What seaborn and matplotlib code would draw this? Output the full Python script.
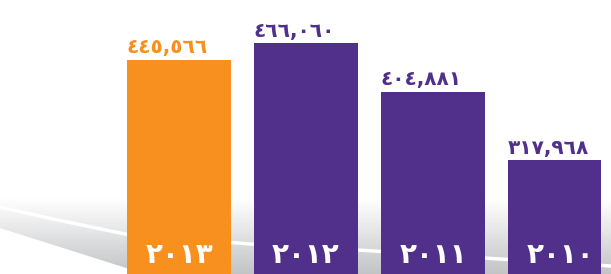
import numpy as np
import pandas as pd
import matplotlib.pyplot as plt
import seaborn as sns
from matplotlib.colors import LinearSegmentedColormap
from matplotlib.patches import Polygon

# data
years = ["٢٠١٣", "٢٠١٢", "٢٠١١", "٢٠١٠"]
values = [445566, 466060, 404881, 317968]
value_labels = ["٤٤٥,٥٦٦", "٤٦٦,٠٦٠", "٤٠٤,٨٨١", "٣١٧,٩٦٨"]
bar_colors = ["#F7901E", "#51308C", "#51308C", "#51308C"]

df = pd.DataFrame({"year": years, "value": values})

sns.set_style("white")
plt.rcParams["font.family"] = ["DejaVu Sans"]

W, H = 611, 274
fig = plt.figure(figsize=(W / 100, H / 100), dpi=100)

# background swoosh, drawn in pixel coordinates
bg = fig.add_axes([0, 0, 1, 1])
bg.set_xlim(0, W)
bg.set_ylim(H, 0)
bg.axis("off")

grey_cmap = LinearSegmentedColormap.from_list("swoosh", ["#ffffff", "#ececed", "#d6d7d8", "#c3c4c6"])
grad = np.linspace(0, 1, 200).reshape(-1, 1)
img = bg.imshow(grad, extent=(0, W, H, 198), cmap=grey_cmap,
                aspect="auto", vmin=0, vmax=1, zorder=0)
band = Polygon([(0, 198), (W, 198), (W, H), (145, H), (0, 228)], closed=True,
               facecolor="none", edgecolor="none")
bg.add_patch(band)
img.set_clip_path(band)

stripe_x = [0, 53, 125, 250, 375, 500, 611]
stripe_y = [207, 219, 234, 244, 251, 259, 266]
bg.plot(stripe_x, stripe_y, color="white", lw=2.5, solid_capstyle="round", zorder=1)

# bars
ax = fig.add_axes([0, 0, 601 / W, 1])
ax.patch.set_alpha(0)
sns.barplot(data=df, x="year", y="value", hue="year", palette=bar_colors,
            width=0.82, legend=False, saturation=1, linewidth=0, ax=ax)
ax.set_xlim(-1.41, 3.323)
ax.set_ylim(174000, 521000)
ax.axis("off")

for i, (v, lab) in enumerate(zip(values, value_labels)):
    ax.annotate(lab, xy=(i - 0.41, v), xytext=(0, 4.5), textcoords="offset points",
                ha="left", va="baseline", fontsize=14.5, fontweight="bold",
                color=bar_colors[i])
    ax.annotate(years[i], xy=(i, 174000), xytext=(0, 8), textcoords="offset points",
                ha="center", va="baseline", fontsize=20, fontweight="bold",
                color="white")

fig.savefig("out.png", dpi=100)
